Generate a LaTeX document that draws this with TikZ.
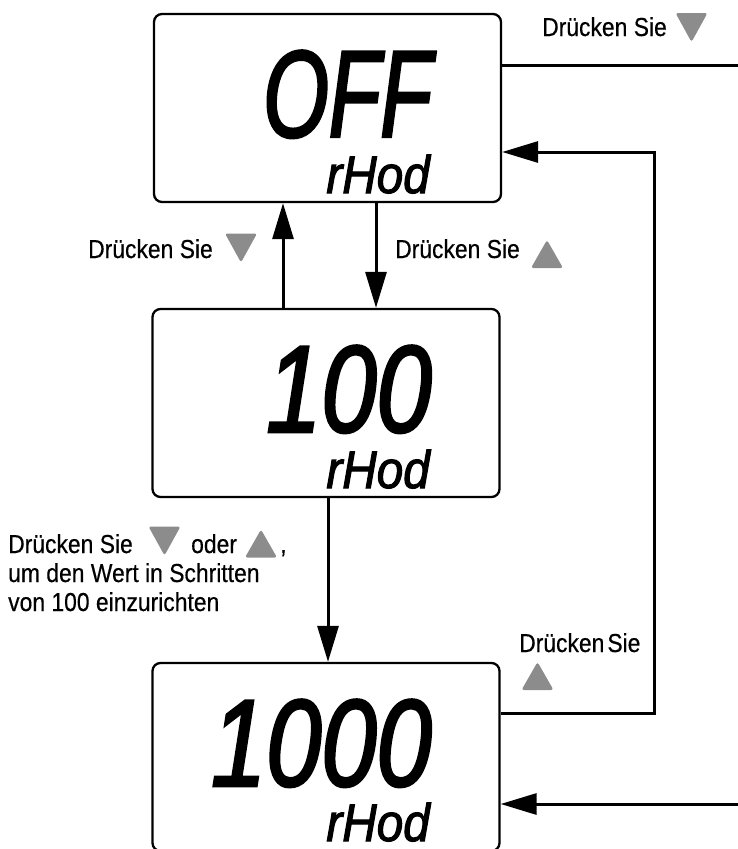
\documentclass[tikz,border=0pt]{standalone}
\usepackage{fontspec}
\setmainfont{Liberation Sans}
\newfontfamily\lcdfont{Liberation Sans}[FakeStretch=0.8, FakeBold=2]
\newfontfamily\lcdoff{Liberation Sans}[FakeStretch=0.68, FakeBold=2]
\newfontfamily\lcdsmall{Liberation Sans}[FakeStretch=0.9, FakeBold=2]
\newfontfamily\lblfont{Liberation Sans}[FakeStretch=0.88, FakeBold=0.4]
\usetikzlibrary{arrows.meta}
\tikzset{
  lcdbox/.style={draw, line width=2.3pt, rounded corners=8pt, minimum width=347pt, minimum height=188pt, inner sep=0pt},
  conn/.style={line width=3pt},
  arr/.style={line width=3pt, -{Triangle[length=36pt,width=21pt]}},
  lbl/.style={inner sep=0pt, font=\lblfont\fontsize{26}{30}\selectfont},
  bigdig/.style={inner sep=0pt, anchor=base east, text height=90pt, text depth=0pt, font=\lcdfont\itshape\fontsize{124}{124}\selectfont},
  offdig/.style={bigdig, font=\lcdoff\itshape\fontsize{124}{124}\selectfont},
  smalldig/.style={inner sep=0pt, anchor=base east, text height=40pt, text depth=0pt, font=\lcdsmall\itshape\fontsize{53}{53}\selectfont},
  tri/.style={fill=black!45, rounded corners=2.5pt},
  downtri/.pic={\fill[tri] (-16,-14.5) -- (16,-14.5) -- (0,14.5) -- cycle;},
  uptri/.pic={\fill[tri] (-16,14) -- (16,14) -- (0,-14) -- cycle;}
}
\begin{document}
\begin{tikzpicture}[x=1pt,y=-1pt]
\useasboundingbox (0,0) rectangle (738,849);
% boxes
\node[lcdbox] (b1) at (327.5,108) {};
\node[lcdbox] (b2) at (326,403) {};
\node[lcdbox] (b3) at (326,757) {};
% display contents
\node[offdig] (d1) at (432,137) {OFF};
\node[smalldig] (r1) at (430,193) {rHod};
\node[bigdig] (d2) at (432,432) {100};
\node[smalldig] (r2) at (430,488) {rHod};
\node[bigdig] (d3) at (432,786) {1000};
\node[smalldig] (r3) at (430,841) {rHod};
% helper coordinates
\coordinate (xu) at (283,0);
\coordinate (xd) at (376,0);
\coordinate (xm) at (328,0);
\coordinate (p1) at (654,713);
\coordinate (p2) at (654,152);
\coordinate (t1) at (738,65);
\coordinate (t2) at (738,804);
% connectors
\draw[arr] (b2.north -| xu) -- (b1.south -| xu);
\draw[arr] (b1.south -| xd) -- (b2.north -| xd);
\draw[arr] (b2.south -| xm) -- (b3.north -| xm);
\draw[arr] (b3.east |- p1) -- (p1) -- (p2) -- (b1.east |- p2);
\draw[conn] (b1.east |- t1) -- (t1);
\draw[arr] (t2) -- (b3.east |- t2);
% labels
\node[lbl, anchor=base west] (l1) at (542,36) {Drücken Sie};
\pic at (691.5,27.5) {downtri};
\node[lbl, anchor=base east] (l2) at (213,258) {Drücken Sie};
\pic at (241,248) {downtri};
\node[lbl, anchor=base west] (l3) at (395,258) {Drücken Sie};
\pic at (547,254) {uptri};
\node[lbl, anchor=base west] (l4) at (519,652) {\spaceskip=3pt Drücken Sie};
\pic at (537.5,676) {uptri};
\node[lbl, anchor=base west] (l5a) at (8,553) {Drücken Sie};
\pic at (164.5,541) {downtri};
\node[lbl, anchor=base west] (l5b) at (191,553) {oder};
\pic at (261,543.5) {uptri};
\node[lbl, anchor=base west] (l5c) at (280,553) {,};
\node[lbl, anchor=base west] (l6) at (8,582) {um den Wert in Schritten};
\node[lbl, anchor=base west] (l7) at (8,611) {von 100 einzurichten};
\end{tikzpicture}
\end{document}
